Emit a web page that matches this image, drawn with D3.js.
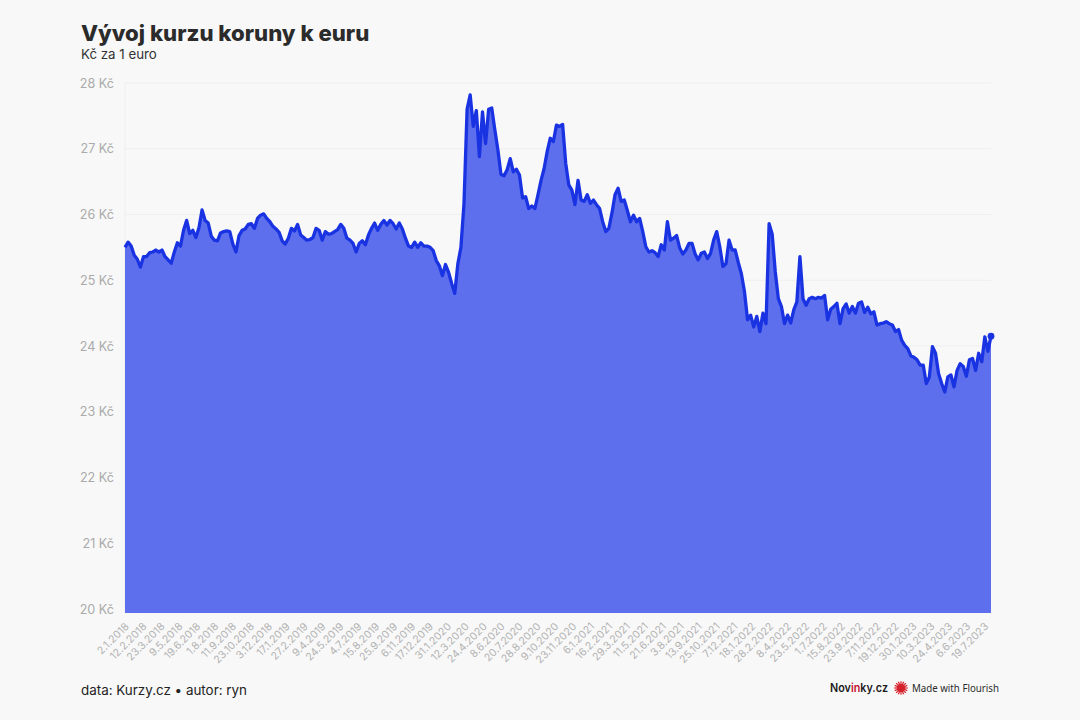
<!DOCTYPE html>
<html><head><meta charset="utf-8">
<script src="https://cdn.jsdelivr.net/npm/d3@7/dist/d3.min.js"></script>
<style>html,body{margin:0;padding:0;background:#f8f8f8}svg{display:block}</style>
</head><body><svg id="c" width="1080" height="720"></svg>
<script>
const titleText = "Vývoj kurzu koruny k euru";
const subtitleText = "Kč za 1 euro";
const footerText = "data: Kurzy.cz • autor: ryn";
const yTicks = [20,21,22,23,24,25,26,27,28];
const dateLabels = ["2.1.2018","12.2.2018","23.3.2018","9.5.2018","19.6.2018","1.8.2018","11.9.2018","23.10.2018","3.12.2018","17.1.2019","27.2.2019","9.4.2019","24.5.2019","4.7.2019","15.8.2019","25.9.2019","6.11.2019","17.12.2019","31.1.2020","12.3.2020","24.4.2020","8.6.2020","20.7.2020","28.8.2020","9.10.2020","23.11.2020","6.1.2021","16.2.2021","29.3.2021","11.5.2021","21.6.2021","3.8.2021","13.9.2021","25.10.2021","7.12.2021","18.1.2022","28.2.2022","8.4.2022","23.5.2022","1.7.2022","15.8.2022","23.9.2022","7.11.2022","19.12.2022","30.1.2023","10.3.2023","24.4.2023","6.6.2023","19.7.2023"];
const samplesPerLabel = 5.81;
const rates = [
25.50,25.58,25.52,25.38,25.32,25.20,25.36,25.36,25.42,25.43,
25.46,25.43,25.46,25.36,25.31,25.26,25.43,25.57,25.52,25.76,
25.91,25.71,25.76,25.65,25.80,26.07,25.91,25.87,25.67,25.61,
25.60,25.72,25.74,25.75,25.74,25.55,25.43,25.68,25.76,25.78,
25.85,25.86,25.79,25.94,25.99,26.01,25.94,25.89,25.82,25.78,
25.73,25.60,25.55,25.64,25.79,25.75,25.85,25.69,25.65,25.61,
25.62,25.65,25.79,25.76,25.61,25.74,25.70,25.71,25.74,25.77,
25.85,25.79,25.64,25.61,25.56,25.43,25.56,25.60,25.54,25.69,
25.79,25.87,25.76,25.85,25.91,25.84,25.91,25.86,25.78,25.87,
25.78,25.64,25.52,25.50,25.58,25.50,25.57,25.52,25.52,25.50,
25.45,25.30,25.22,25.07,25.24,25.12,24.95,24.80,25.25,25.50,
26.17,27.60,27.82,27.34,27.58,26.88,27.56,27.08,27.60,27.62,
27.29,26.98,26.61,26.59,26.68,26.85,26.65,26.69,26.60,26.25,
26.27,26.09,26.13,26.09,26.30,26.52,26.70,26.96,27.16,27.11,
27.36,27.34,27.37,26.78,26.45,26.37,26.15,26.52,26.22,26.20,
26.30,26.17,26.22,26.15,26.09,25.89,25.74,25.79,26.02,26.30,
26.40,26.20,26.22,26.06,25.89,25.99,25.89,25.94,25.74,25.51,
25.43,25.45,25.42,25.36,25.54,25.46,25.89,25.61,25.64,25.68,
25.49,25.40,25.46,25.56,25.56,25.40,25.31,25.41,25.43,25.33,
25.41,25.61,25.74,25.51,25.21,25.25,25.61,25.46,25.46,25.27,
25.10,24.83,24.40,24.47,24.29,24.45,24.22,24.50,24.34,25.86,
25.70,25.13,24.72,24.60,24.34,24.47,24.35,24.55,24.67,25.36,
24.72,24.62,24.72,24.74,24.72,24.74,24.73,24.77,24.40,24.56,
24.60,24.65,24.34,24.57,24.64,24.50,24.60,24.50,24.65,24.67,
24.51,24.59,24.49,24.52,24.32,24.34,24.35,24.37,24.34,24.32,
24.22,24.25,24.09,24.01,23.96,23.85,23.83,23.79,23.71,23.71,
23.43,23.53,23.99,23.89,23.58,23.43,23.30,23.53,23.56,23.38,
23.63,23.73,23.69,23.54,23.79,23.81,23.63,23.89,23.76,24.14,
23.92,24.15];

const svg = d3.select("#c");
const x = d3.scaleLinear().domain([0, rates.length-1]).range([125,991]);
const y = d3.scaleLinear().domain([19.94,28]).range([613,83]);
const font = "Inter, sans-serif";

// grid
svg.append("g").selectAll("line").data(yTicks).join("line")
  .attr("x1",x(0)).attr("x2",x(rates.length-1))
  .attr("y1",d=>y(d)).attr("y2",d=>y(d))
  .attr("stroke","#efefef").attr("stroke-width",1);
svg.append("line").attr("x1",125).attr("x2",125).attr("y1",y(28)).attr("y2",613)
  .attr("stroke","#efefef");

// y axis
const yAxis = d3.axisLeft(y).tickValues(yTicks).tickSize(0).tickPadding(11).tickFormat(d=>d+" Kč");
const gy = svg.append("g").attr("transform","translate(125,0)").call(yAxis);
gy.select(".domain").remove();
gy.selectAll("text").attr("fill","#aaaaaa").style("font-family",font).style("font-size","12.6px");

// area + line
const area = d3.area().x((d,i)=>x(i)).y0(613).y1(d=>y(d));
const line = d3.line().x((d,i)=>x(i)).y(d=>y(d));
svg.append("path").datum(rates).attr("d",area).attr("fill","#5e6fed");
svg.append("path").datum(rates).attr("d",line).attr("fill","none")
  .attr("stroke","#1a33e2").attr("stroke-width",3.3).attr("stroke-linejoin","round");
svg.append("circle").attr("cx",x(rates.length-1)).attr("cy",y(rates[rates.length-1])).attr("r",3.4).attr("fill","#1a33e2");

// x axis
const tickPos = dateLabels.map((d,i)=>i*samplesPerLabel);
const xAxis = d3.axisBottom(x).tickValues(tickPos).tickSize(0).tickPadding(0)
  .tickFormat((d,i)=>dateLabels[i]);
const gx = svg.append("g").attr("transform","translate(0,613)").call(xAxis);
gx.select(".domain").remove();
gx.selectAll("text")
  .attr("text-anchor","end").attr("dy",null)
  .attr("transform","translate(2,12) rotate(-45)")
  .attr("y",0).attr("x",0).attr("dominant-baseline","middle")
  .attr("fill","#b2b2b2").style("font-family",font).style("font-size","10.5px");

// header / footer
svg.append("text").attr("x",81).attr("y",41).text(titleText)
  .attr("fill","#2b2b2b").style("font-family",font).style("font-weight",800).style("font-size","22.2px");
svg.append("text").attr("x",81).attr("y",59).text(subtitleText)
  .attr("fill","#333").style("font-family",font).style("font-size","13.3px");
svg.append("text").attr("x",81).attr("y",695).text(footerText)
  .attr("fill","#222").style("font-family",font).style("font-size","13.4px");

const nov = svg.append("text").attr("x",830).attr("y",692)
  .attr("textLength",58).attr("lengthAdjust","spacingAndGlyphs")
  .attr("fill","#1c1c1c").style("font-family","Inter, sans-serif").style("font-weight",600).style("font-size","11.5px");
nov.append("tspan").text("Nov");
nov.append("tspan").text("in").attr("fill","#c4122f");
nov.append("tspan").text("ky.cz");

const spokes = d3.range(16);
svg.append("g").attr("transform","translate(901,688)").selectAll("line").data(spokes).join("line")
  .attr("x2",d=>6.8*Math.cos(d/16*2*Math.PI)).attr("y2",d=>6.8*Math.sin(d/16*2*Math.PI))
  .attr("stroke","#d4202a").attr("stroke-width",1.2);
svg.append("circle").attr("cx",901).attr("cy",688).attr("r",4).attr("fill","#d4202a");
svg.append("text").attr("x",912).attr("y",692).text("Made with Flourish")
  .attr("textLength",87).attr("lengthAdjust","spacingAndGlyphs")
  .attr("fill","#2a2a2a").style("font-family","'Noto Sans', sans-serif").style("font-size","11.5px");
</script></body></html>
